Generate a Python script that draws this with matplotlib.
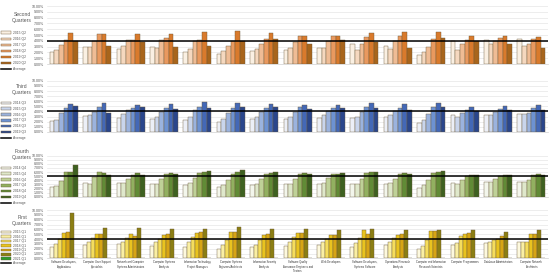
import numpy as np
import matplotlib.pyplot as plt
from matplotlib.patches import Patch
from matplotlib.lines import Line2D

plt.rcParams['font.family'] = ['Liberation Sans', 'DejaVu Sans']

categories = [
    'Software Developers,\nApplications',
    'Computer User Support\nSpecialists',
    'Network and Computer\nSystems Administrators',
    'Computer Systems\nAnalysts',
    'Information Technology\nProject Managers',
    'Computer Systems\nEngineers/Architects',
    'Information Security\nAnalysts',
    'Software Quality\nAssurance Engineers and\nTesters',
    'Web Developers',
    'Software Developers,\nSystems Software',
    'Operations Research\nAnalysts',
    'Computer and Information\nResearch Scientists',
    'Computer Programmers',
    'Database Administrators',
    'Computer Network\nArchitects',
]

# Second quarters (percent)
q2_labels = ['2015 Q2', '2016 Q2', '2017 Q2', '2018 Q2', '2019 Q2', '2020 Q2']
q2_values = [
    [2.15, 2.9, 2.65, 2.9, 2.0, 1.7, 2.25, 2.5, 2.8, 3.5, 3.1, 1.5, 4.0, 4.1, 4.35],
    [2.4, 2.9, 3.2, 2.8, 2.65, 2.25, 2.65, 2.8, 2.8, 2.5, 2.65, 2.0, 2.5, 3.4, 3.2],
    [3.3, 4.0, 4.2, 4.1, 4.0, 3.1, 3.5, 3.8, 4.0, 3.4, 4.0, 3.0, 3.5, 4.0, 3.5],
    [4.1, 5.2, 4.2, 4.5, 4.2, 4.0, 4.35, 4.9, 4.8, 4.7, 4.8, 4.35, 4.2, 4.5, 4.35],
    [5.4, 5.2, 5.1, 5.1, 5.5, 5.65, 5.4, 4.9, 4.9, 5.4, 5.5, 5.5, 4.8, 4.8, 4.7],
    [4.0, 3.05, 3.8, 2.9, 3.1, 4.0, 4.35, 3.4, 4.2, 3.8, 2.8, 4.5, 4.0, 3.5, 2.8],
]
q2_avg = 4.05

# Third quarters
q3_labels = ['2014 Q3', '2015 Q3', '2016 Q3', '2017 Q3', '2018 Q3', '2019 Q3']
q3_values = [
    [2.2, 3.1, 2.8, 2.6, 2.3, 2.0, 2.5, 2.6, 2.8, 2.7, 2.9, 1.8, 3.2, 3.3, 3.4],
    [2.3, 3.3, 3.4, 3.0, 3.0, 2.6, 2.9, 3.0, 3.2, 3.0, 3.2, 2.4, 3.0, 3.3, 3.4],
    [3.6, 3.9, 4.3, 3.9, 4.2, 3.6, 3.8, 3.9, 4.0, 3.8, 4.0, 3.5, 3.6, 3.8, 3.6],
    [4.6, 4.8, 4.6, 4.6, 4.8, 4.6, 4.6, 4.8, 4.7, 4.8, 4.7, 4.8, 4.3, 4.4, 4.6],
    [5.5, 5.6, 5.3, 5.4, 5.9, 5.6, 5.5, 5.3, 5.2, 5.6, 5.5, 5.7, 4.9, 5.0, 5.2],
    [5.1, 3.6, 4.8, 4.4, 4.6, 4.9, 4.8, 4.4, 4.6, 4.7, 4.3, 4.8, 4.0, 4.2, 4.3],
]
q3_avg = 4.1

# Fourth quarters
q4_labels = ['2014 Q4', '2015 Q4', '2016 Q4', '2017 Q4', '2018 Q4', '2019 Q4']
q4_values = [
    [2.4, 3.25, 3.4, 3.0, 2.8, 2.4, 2.8, 3.0, 3.1, 3.0, 3.2, 2.2, 3.4, 3.5, 3.5],
    [2.6, 3.1, 3.25, 3.2, 3.3, 2.9, 3.1, 3.2, 3.4, 3.2, 3.3, 2.8, 3.2, 3.5, 3.5],
    [3.9, 4.7, 4.2, 4.3, 4.5, 4.0, 4.2, 4.4, 4.5, 4.3, 4.4, 4.0, 4.0, 4.2, 4.0],
    [6.0, 6.0, 5.3, 5.5, 5.8, 5.6, 5.5, 5.6, 5.6, 5.7, 5.6, 5.8, 5.0, 5.1, 5.3],
    [6.0, 5.7, 5.7, 5.8, 6.0, 6.0, 5.8, 5.7, 5.5, 5.9, 5.8, 6.1, 5.3, 5.4, 5.5],
    [7.6, 5.3, 5.3, 5.6, 6.2, 6.6, 6.0, 5.5, 5.7, 6.1, 5.6, 6.3, 5.4, 5.3, 5.3],
]
q4_avg = 4.95

# First quarters
q1_labels = ['2015 Q1', '2016 Q1', '2017 Q1', '2018 Q1', '2019 Q1', '2020 Q1', '2021 Q1']
q1_values = [
    [2.3, 2.7, 2.9, 2.6, 2.3, 1.9, 2.3, 2.6, 2.7, 2.4, 2.7, 1.85, 2.7, 3.2, 3.4],
    [2.9, 3.3, 3.5, 3.4, 3.3, 2.7, 2.7, 3.3, 3.4, 3.1, 3.4, 2.5, 3.1, 3.4, 3.4],
    [4.1, 4.3, 4.3, 4.1, 4.4, 3.8, 3.8, 4.4, 4.1, 4.3, 4.3, 3.9, 4.6, 3.8, 3.4],
    [5.3, 5.0, 5.1, 4.8, 5.3, 5.5, 4.8, 5.3, 4.8, 5.9, 4.8, 5.7, 5.0, 4.1, 5.0],
    [5.5, 5.0, 4.6, 5.0, 5.5, 5.5, 5.1, 5.3, 4.8, 5.1, 5.0, 5.7, 5.3, 4.6, 5.0],
    [9.5, 6.2, 6.4, 6.0, 6.0, 6.5, 6.0, 6.0, 5.9, 6.0, 5.8, 5.9, 5.9, 5.5, 5.9],
    [0.1, 0.1, 0.1, 0.1, 0.1, 0.1, 0.1, 0.1, 0.1, 0.1, 0.1, 0.1, 0.1, 0.1, 0.1],
]
q1_avg = 4.1

# title, labels, values, average, colours, axes rect, title top, legend top, legend spacing
panels = [
    ('Second\nQuarters', q2_labels, q2_values, q2_avg,
     ['#faf0e3', '#f5d8bf', '#efbc95', '#e9995f', '#d97a2c', '#a8651c'],
     [0.0855, 0.766, 0.911, 0.212], 0.958, 0.892, 0.62),
    ('Third\nQuarters', q3_labels, q3_values, q3_avg,
     ['#eceff7', '#c9d5ec', '#9bb3de', '#6d92d2', '#4368b7', '#2a468c'],
     [0.0855, 0.519, 0.911, 0.186], 0.695, 0.636, 0.54),
    ('Fourth\nQuarters', q4_labels, q4_values, q4_avg,
     ['#f3f6ec', '#dfe8cb', '#bfd198', '#92b060', '#618b36', '#3e6121'],
     [0.0855, 0.282, 0.911, 0.150], 0.458, 0.399, 0.54),
    ('First\nQuarters', q1_labels, q1_values, q1_avg,
     ['#fdf9df', '#faefa4', '#f5dd5d', '#e9c31f', '#d7a515', '#8b7e13', '#2e9a2e'],
     [0.0855, 0.057, 0.911, 0.176], 0.217, 0.165, 0.14),
]

fig = plt.figure(figsize=(5.5, 2.74), dpi=100)
x = np.arange(len(categories))

for i, (title, labels, values, avg, colors, rect, ttop, ltop, lsp) in enumerate(panels):
    ax = fig.add_axes(rect)
    n = len(values)
    w = 0.84 / n
    for j, vals in enumerate(values):
        ax.bar(x - 0.42 + w * (j + 0.5), vals, width=w, color=colors[j],
               edgecolor='#6b5a3a', linewidth=0.3, zorder=2)
    ax.axhline(avg, color='black', linewidth=1.1, zorder=3)
    ax.set_xlim(-0.5, len(categories) - 0.5)
    ax.set_ylim(0, 10)
    ax.set_yticks(np.arange(0, 11, 1))
    ax.set_yticklabels(['%.2f%%' % v for v in range(11)], fontsize=2.6, color='#555555')
    ax.tick_params(axis='y', length=0, pad=2)
    ax.grid(axis='y', color='#e6e6e6', linewidth=0.5, zorder=0)
    for s in ['top', 'right', 'left']:
        ax.spines[s].set_visible(False)
    ax.spines['bottom'].set_color('#d0d0d0')
    ax.spines['bottom'].set_linewidth(0.5)
    if i == 3:
        ax.set_xticks(x)
        ax.set_xticklabels(categories, fontsize=1.9, color='#333333', linespacing=1.1)
        ax.tick_params(axis='x', length=0, pad=1.5)
    else:
        ax.set_xticks([])

    fig.text(0.04, ttop, title, ha='center', va='top', fontsize=3.6,
             color='#555555', linespacing=1.3)
    handles = [Patch(facecolor=c, edgecolor='#6b5a3a', linewidth=0.3) for c in colors]
    handles.append(Line2D([0], [0], color='black', linewidth=1.1))
    leg = fig.legend(handles, labels + ['Average'], loc='upper left',
                     bbox_to_anchor=(0.0, ltop), frameon=False,
                     fontsize=2.4, handlelength=3.0, handleheight=0.8,
                     labelspacing=lsp, handletextpad=0.5, borderaxespad=0.0)
    for t in leg.get_texts():
        t.set_color('#555555')

fig.savefig('out.png', dpi=100)
